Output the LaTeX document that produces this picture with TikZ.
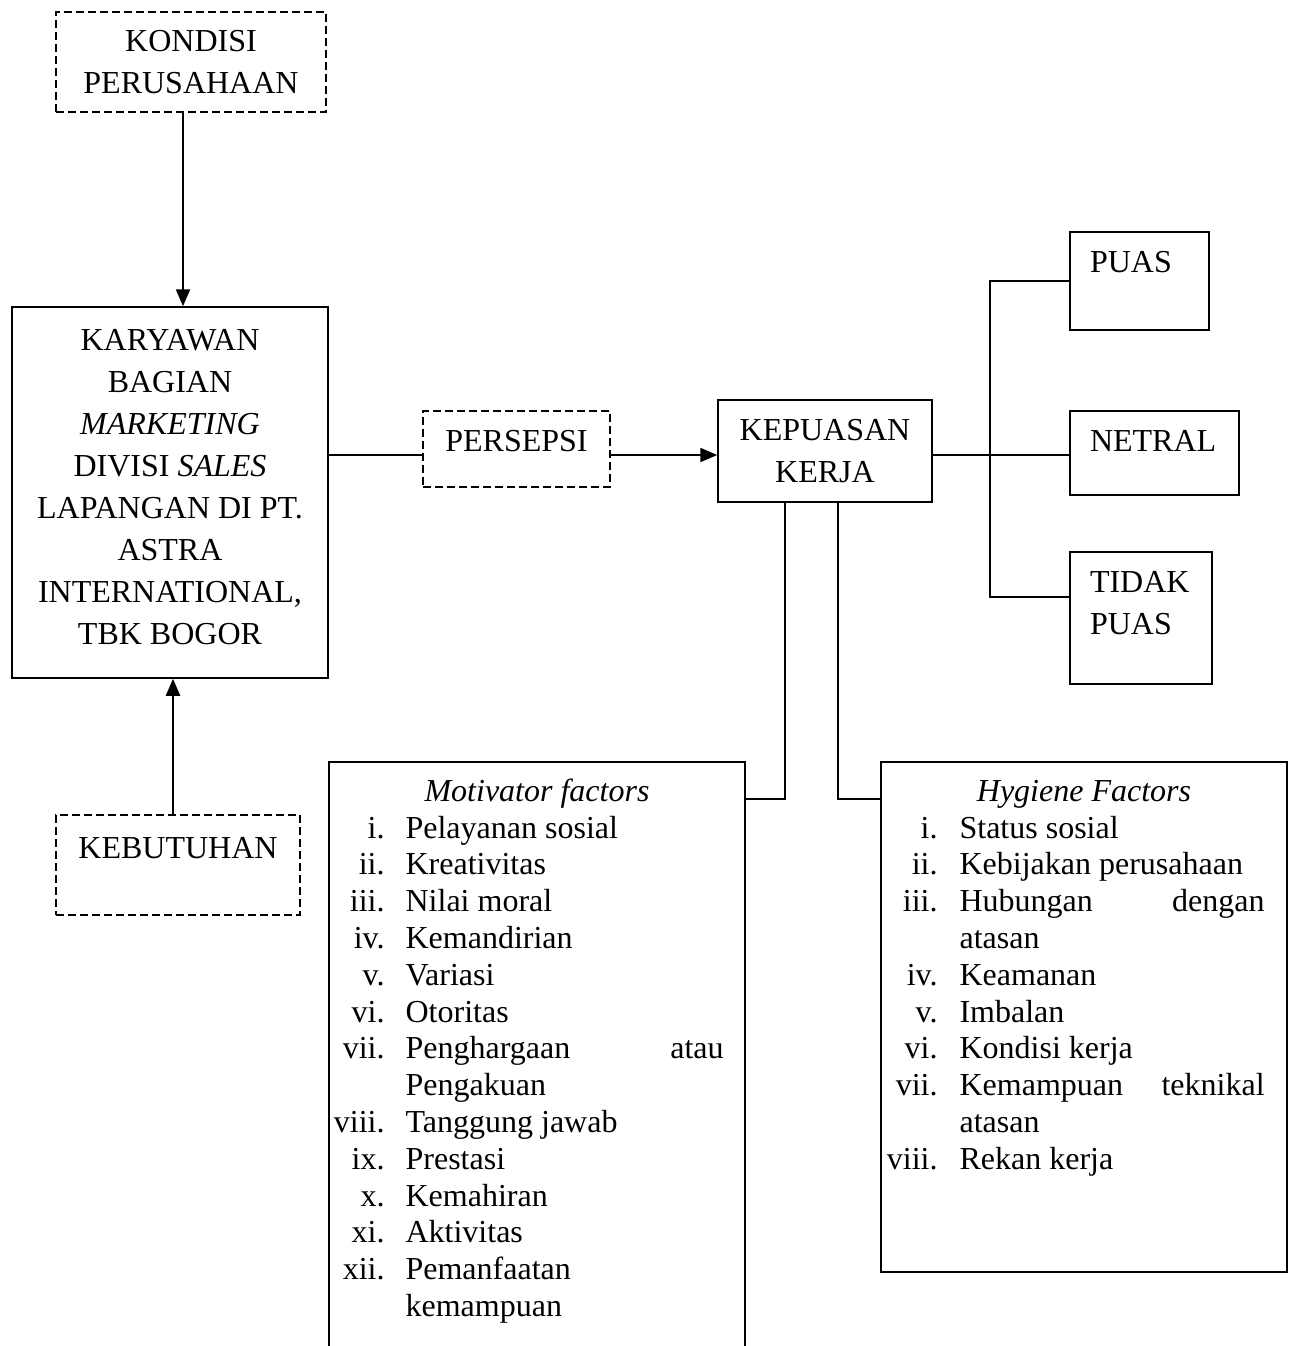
\documentclass[tikz,border=0pt]{standalone}
\usepackage{fontspec}
\setmainfont{Liberation Serif}
\usetikzlibrary{arrows.meta}
\tikzset{
  kotak/.style={
    draw, line width=0.75pt, inner sep=0pt, align=center,
    font=\fontsize{16}{21}\selectfont
  },
  kotakputus/.style={kotak, dash pattern=on 4pt off 2pt},
  kotakkiri/.style={kotak, align=left, inner xsep=10pt},
  garis/.style={line width=0.75pt},
  panah/.style={-{Triangle[length=8.5pt, width=7pt]}, line width=1.1pt},
  daftar/.style={inner sep=0pt, font=\fontsize{16}{18.4}\selectfont},
  judul/.style={inner sep=0pt, font=\fontsize{16}{18.4}\selectfont\itshape},
}
\begin{document}
\begin{tikzpicture}[x=0.5pt, y=-0.5pt]
\useasboundingbox (0,0) rectangle (1290,1346);
\clip (0,0) rectangle (1290,1346);

% kotak kiri
\node[kotakputus, minimum width=135pt, minimum height=50pt] (kondisi) at (191,62)
{KONDISI\\PERUSAHAAN};
\node[kotak, minimum width=158pt, minimum height=185.5pt] (karyawan) at (170,492.5)
{KARYAWAN\\BAGIAN\\\textit{MARKETING}\\DIVISI \textit{SALES}\\LAPANGAN DI PT.\\
ASTRA\\INTERNATIONAL,\\TBK BOGOR\\[-15pt]~};
\node[kotakputus, minimum width=122pt, minimum height=50pt,
  text height=11pt, text depth=17.4pt] (kebutuhan) at (178,865) {KEBUTUHAN};

% kotak tengah
\node[kotakputus, minimum width=93.5pt, minimum height=38pt,
  text height=11pt, text depth=8.4pt] (persepsi) at (516.5,449) {PERSEPSI};
\node[kotak, minimum width=107pt, minimum height=51pt] (kepuasan) at (825,451)
{KEPUASAN\\KERJA};

% kotak kanan
\node[kotakkiri, text width=49.5pt, minimum height=49pt,
  text height=11pt, text depth=19.4pt] (puas) at (1139.5,281) {PUAS};
\node[kotakkiri, text width=64.5pt, minimum height=42pt,
  text height=11pt, text depth=12.4pt] (netral) at (1154.5,453) {NETRAL};
\node[kotakkiri, text width=51pt, minimum height=66pt] (tidak) at (1141,618)
{TIDAK\\PUAS\\[-6pt]~};

% faktor
\node[kotak, minimum width=208pt, minimum height=350pt] (motivasi) at (537,1112) {};
\node[kotak, minimum width=203pt, minimum height=255pt] (higiene) at (1084,1017) {};

\node[judul, anchor=base] (judulmotivasi) at (537,801) {Motivator factors};
\node[daftar, anchor=north east] (daftarmotivasi) at (724,812) {%
\begin{tabular}{@{}r@{\hspace{10.5pt}}p{159pt}@{}}
i. & Pelayanan sosial\\
ii. & Kreativitas\\
iii. & Nilai moral\\
iv. & Kemandirian\\
v. & Variasi\\
vi. & Otoritas\\
vii. & Penghargaan\hfill atau\newline Pengakuan\\
viii. & Tanggung jawab\\
ix. & Prestasi\\
x. & Kemahiran\\
xi. & Aktivitas\\
xii. & Pemanfaatan\newline kemampuan\\
\end{tabular}};

\node[judul, anchor=base] (judulhigiene) at (1084,801) {Hygiene Factors};
\node[daftar, anchor=north east] (daftarhigiene) at (1265,812) {%
\begin{tabular}{@{}r@{\hspace{11pt}}p{152.5pt}@{}}
i. & Status sosial\\
ii. & Kebijakan perusahaan\\
iii. & Hubungan\hfill dengan\newline atasan\\
iv. & Keamanan\\
v. & Imbalan\\
vi. & Kondisi kerja\\
vii. & Kemampuan\hfill teknikal\newline atasan\\
viii. & Rekan kerja\\
\end{tabular}};

% penghubung
\coordinate (jalur) at (0,455);
\coordinate (cabang) at (990,455);
\coordinate (tepi) at (0,799);
\coordinate (atas) at ([xshift=-4pt]kondisi.south);
\coordinate (bawah) at ([xshift=-2.5pt]kebutuhan.north);

\draw[panah] (atas) -- (atas |- karyawan.north);
\draw[panah] (bawah) -- (bawah |- karyawan.south);
\draw[garis] (karyawan.east |- jalur) -- (persepsi.west |- jalur);
\draw[panah] (persepsi.east |- jalur) -- (kepuasan.west |- jalur);
\draw[garis] (kepuasan.east |- jalur) -- (netral.west |- jalur);
\draw[garis] (puas.west) -| (cabang) |- ([yshift=10.5pt]tidak.west);
\draw[garis] ([xshift=-20pt]kepuasan.south) |- (motivasi.east |- tepi);
\draw[garis] ([xshift=6.5pt]kepuasan.south) |- (higiene.west |- tepi);

\end{tikzpicture}
\end{document}
